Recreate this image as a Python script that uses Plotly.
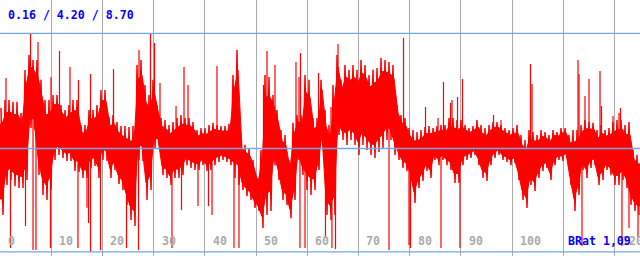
import plotly.graph_objects as go

# ---- data ----
x_max = 125  # x axis extent (units)

# dense body of the series: upper / lower envelope per small x-bin (value units)
body_top = [5.78, 6.09, 6.09, 6.02, 6.02, 5.59, 7.27, 7.85, 7.66, 7.66,
            6.88, 6.09, 6.09, 6.29, 6.29, 5.90, 5.70, 5.90, 6.09, 6.09,
            5.12, 5.12, 5.70, 5.70, 5.90, 6.48, 6.48, 5.43, 5.51, 5.23,
            5.08, 5.08, 5.04, 5.08, 7.46, 7.66, 6.68, 6.29, 6.88, 5.90,
            5.39, 5.31, 5.12, 5.23, 5.39, 5.51, 5.39, 5.39, 5.23, 4.92,
            5.00, 5.00, 5.12, 5.20, 5.12, 5.08, 5.08, 5.16, 7.07, 8.05,
            4.49, 4.34, 4.22, 3.75, 3.05, 4.14, 7.07, 6.99, 6.29, 5.70,
            4.92, 4.73, 3.75, 5.20, 5.51, 5.51, 7.07, 6.88, 5.39, 5.39,
            6.88, 5.70, 5.12, 6.68, 7.85, 6.88, 7.46, 7.27, 7.46, 7.27,
            7.66, 7.46, 7.07, 7.27, 7.34, 7.73, 7.66, 7.58, 7.46, 5.90,
            5.51, 5.39, 5.00, 4.92, 4.84, 4.92, 5.04, 5.08, 5.00, 5.08,
            5.12, 5.12, 5.39, 5.39, 5.31, 5.31, 5.12, 5.00, 5.08, 5.31,
            5.12, 5.00, 5.12, 5.23, 5.23, 5.12, 5.00, 4.92, 5.00, 5.12,
            4.73, 4.53, 4.92, 4.84, 4.73, 4.92, 4.84, 4.73, 4.92, 4.84,
            5.00, 5.00, 4.73, 4.92, 4.92, 5.12, 5.31, 5.23, 5.20, 4.92,
            5.12, 4.92, 5.00, 5.23, 5.31, 5.31, 5.12, 5.23, 4.14, 3.95]

body_bottom = [1.60, 2.77, 2.97, 2.73, 2.66, 2.66, 2.97, 5.00, 4.92, 3.16,
               2.38, 2.19, 2.58, 3.75, 3.95, 3.83, 3.71, 3.71, 3.32, 3.28,
               3.05, 3.05, 3.44, 3.52, 3.05, 3.75, 3.71, 3.05, 3.36, 2.81,
               2.58, 1.99, 1.41, 1.17, 3.75, 3.71, 2.19, 2.58, 4.22, 4.34,
               3.16, 3.05, 2.77, 3.05, 3.05, 3.16, 3.55, 3.44, 3.36, 3.36,
               3.55, 3.32, 3.36, 3.55, 3.67, 3.75, 3.67, 3.55, 3.05, 2.77,
               2.58, 2.34, 2.19, 1.88, 1.76, 1.09, 1.60, 1.76, 3.55, 2.97,
               2.19, 1.99, 1.48, 2.19, 3.75, 3.16, 2.58, 2.38, 2.58, 3.36,
               4.34, 1.60, 1.41, 1.60, 4.73, 4.53, 4.34, 4.53, 4.34, 3.95,
               4.34, 4.14, 3.95, 3.83, 4.06, 4.22, 4.53, 4.53, 3.95, 3.75,
               3.44, 3.32, 2.97, 2.07, 2.66, 2.93, 3.32, 3.05, 3.75, 3.55,
               3.75, 3.55, 3.36, 2.85, 2.85, 3.55, 3.75, 3.83, 3.95, 3.55,
               3.05, 2.93, 3.55, 3.83, 3.95, 3.75, 3.67, 3.55, 3.63, 2.97,
               2.19, 1.88, 2.77, 2.54, 3.05, 3.32, 3.44, 2.97, 3.55, 3.75,
               3.71, 3.83, 2.77, 1.76, 2.38, 3.36, 3.05, 3.44, 3.55, 2.77,
               2.97, 3.36, 3.16, 2.77, 2.77, 2.97, 2.66, 1.99, 1.76, 1.60]

# isolated single-sample peaks above the body (x, value)
peak_x = [1.17, 5.96, 7.42, 9.96, 11.62, 13.67, 15.33, 17.68, 22.17, 27.15,
          29.39, 30.18, 31.25, 34.38, 35.94, 36.72, 42.38, 51.46, 52.15, 53.71,
          57.81, 58.40, 58.69, 62.21, 64.65, 66.02, 78.81, 83.11, 85.55, 86.62,
          87.99, 88.28, 89.36, 90.33, 96.39, 97.85, 103.61, 103.91, 112.89, 113.09,
          114.26, 115.04, 117.19, 117.48, 119.73, 120.90, 121.19]
peak_y = [6.95, 8.70, 8.36, 6.99, 8.01, 7.38, 6.88, 7.11, 7.30, 8.05,
          8.70, 8.32, 6.76, 5.86, 7.38, 6.68, 7.42, 6.68, 8.01, 7.46,
          7.58, 6.99, 7.93, 7.15, 5.82, 8.28, 8.52, 5.82, 5.39, 6.80,
          5.98, 6.09, 6.21, 6.91, 5.51, 5.31, 7.50, 6.72, 7.66, 7.11,
          6.25, 6.91, 7.23, 5.86, 5.47, 5.59, 5.78]

# isolated single-sample dips below the body (x, value)
dip_x = [2.05, 4.98, 6.45, 7.03, 9.86, 15.23, 16.99, 17.29, 17.68, 19.63,
         24.71, 27.05, 33.59, 35.45, 38.67, 40.72, 41.41, 45.70, 46.68, 58.59,
         59.57, 63.57, 64.84, 65.53, 75.98, 79.88, 80.18, 86.13, 89.84, 113.67,
         121.48, 122.85, 124.61]
dip_y = [0.31, 1.17, 0.23, 0.23, 0.31, 0.31, 1.88, 1.29, 0.16, 0.23,
         0.31, 0.23, 0.31, 1.80, 1.95, 1.95, 1.60, 0.31, 0.31, 0.31,
         0.31, 0.70, 0.31, 0.27, 0.23, 0.43, 0.31, 0.31, 0.31, 0.39,
         0.39, 1.09, 0.70]

stats = [0.16, 4.20, 8.70]          # min / mean / max
tick_vals = [0, 10, 20, 30, 40, 50, 60, 70, 80, 90, 100, 120]
tick_labels = ["0", "10", "20", "30", "40", "50", "60", "70", "80", "90", "100", "120"]
brat_label = "BRat 1,09"

# ---- build traces ----
n = len(body_top)
step = x_max / n
core_frac = 0.7   # share of the body drawn as a solid core (styling)

centers = [(i + 0.5) * step for i in range(n)]
mids = [(t + b) / 2 for t, b in zip(body_top, body_bottom)]
core_top = [m + (t - m) * core_frac for m, t in zip(mids, body_top)]
core_bot = [m + (b - m) * core_frac for m, b in zip(mids, body_bottom)]
band_x = [0] + centers + [x_max] + [x_max] + centers[::-1] + [0]
band_y = ([core_top[0]] + core_top + [core_top[-1]] +
          [core_bot[-1]] + core_bot[::-1] + [core_bot[0]])

# ragged strokes: the series swings between the body envelopes
zz_x, zz_y = [], []
for i in range(n):
    zz_x += [(i + 0.25) * step, (i + 0.75) * step]
    zz_y += [body_top[i], body_bottom[i]]

def mid_at(x):
    i = min(n - 1, max(0, int(x / step)))
    return mids[i]

spk_x, spk_y = [], []
for x, y in list(zip(peak_x, peak_y)) + list(zip(dip_x, dip_y)):
    spk_x += [x, x, None]
    spk_y += [mid_at(x), y, None]

W, H = 640, 256
mono = "DejaVu Sans Mono"

fig = go.Figure()
fig.add_trace(go.Scatter(x=band_x, y=band_y, mode="lines", fill="toself",
                         fillcolor="#ff0000", line=dict(color="#ff0000", width=1),
                         hoverinfo="skip", showlegend=False))
fig.add_trace(go.Scatter(x=zz_x, y=zz_y, mode="lines",
                         line=dict(color="#ff0000", width=1.5),
                         hoverinfo="skip", showlegend=False))
fig.add_trace(go.Scatter(x=spk_x, y=spk_y, mode="lines",
                         line=dict(color="#ff0000", width=1.2),
                         hoverinfo="skip", showlegend=False))

for s in stats:
    fig.add_shape(type="line", xref="paper", x0=0, x1=1, yref="y", y0=s, y1=s,
                  line=dict(color="#6fa8e6", width=1.3), layer="above")

annotations = []
for v, lab in zip(tick_vals, tick_labels):
    annotations.append(dict(x=v, xref="x", y=1 - 241 / H, yref="paper",
                            text=lab, showarrow=False, xanchor="left", yanchor="middle",
                            xshift=6,
                            font=dict(family=mono, size=11.6, color="#aaaaaa", weight="bold")))
annotations.append(dict(x=0, xref="paper", y=1 - 15 / H, yref="paper",
                        text=" / ".join(f"{s:.2f}" for s in stats), showarrow=False,
                        xanchor="left", yanchor="middle", xshift=6,
                        font=dict(family=mono, size=11.6, color="#0000ff", weight="bold")))
annotations.append(dict(x=1, xref="paper", y=1 - 241 / H, yref="paper",
                        text=brat_label, showarrow=False,
                        xanchor="right", yanchor="middle", xshift=-7,
                        font=dict(family=mono, size=11.6, color="#0000ff", weight="bold")))

fig.update_layout(
    width=W, height=H,
    margin=dict(l=0, r=0, t=0, b=0),
    paper_bgcolor="white", plot_bgcolor="white",
    xaxis=dict(range=[0, x_max], dtick=10, tick0=0, showgrid=True,
               gridcolor="#aaaaaa", gridwidth=1, showticklabels=False,
               zeroline=False, showline=False, ticks=""),
    yaxis=dict(range=[0, 10], showgrid=False, showticklabels=False,
               zeroline=False, showline=False, ticks=""),
    annotations=annotations,
)

fig.write_html("out.html")
